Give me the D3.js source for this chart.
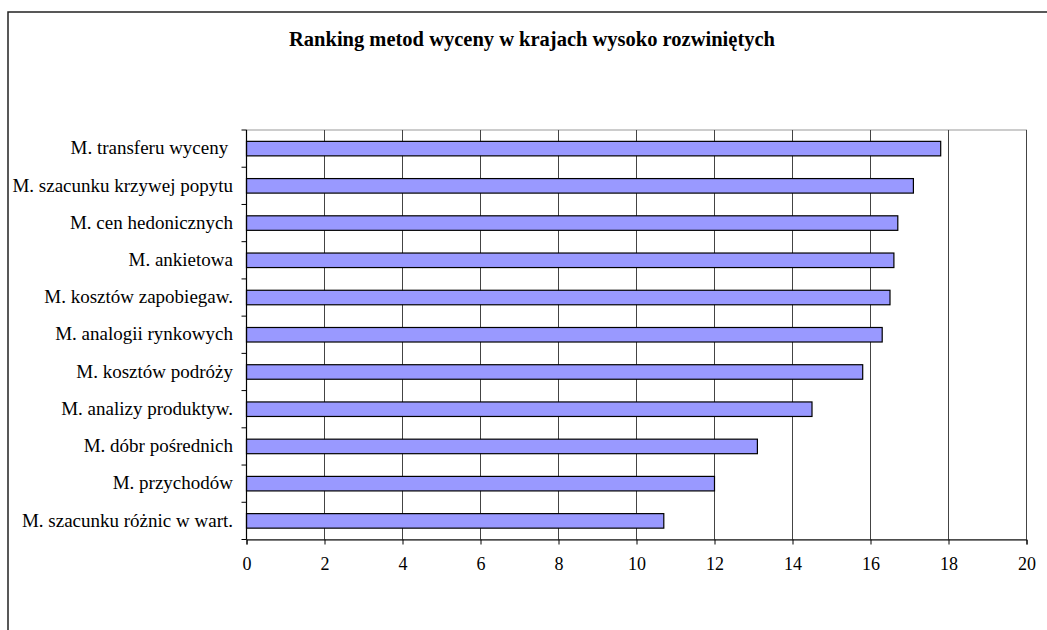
<!DOCTYPE html>
<html>
<head>
<meta charset="utf-8">
<script src="https://cdn.jsdelivr.net/npm/d3@7"></script>
<style>
  html, body { margin: 0; padding: 0; background: #fff; }
  svg { display: block; }
  svg text { font-family: "Liberation Serif", "Times New Roman", serif; fill: #000; }
</style>
</head>
<body>
<svg id="chart" width="1047" height="630"></svg>
<script>
// Ranking of valuation methods (scores), top to bottom
const categories = [
  "M. transferu wyceny ",
  "M. szacunku krzywej popytu",
  "M. cen hedonicznych",
  "M. ankietowa",
  "M. kosztów zapobiegaw.",
  "M. analogii rynkowych",
  "M. kosztów podróży",
  "M. analizy produktyw.",
  "M. dóbr pośrednich",
  "M. przychodów",
  "M. szacunku różnic w wart."
];
const values = [17.8, 17.1, 16.7, 16.6, 16.5, 16.3, 15.8, 14.5, 13.1, 12.0, 10.7];
const xTicks = [0, 2, 4, 6, 8, 10, 12, 14, 16, 18, 20];
const title = "Ranking metod wyceny w krajach wysoko rozwiniętych";

const serif = "'Liberation Serif', 'Times New Roman', serif";
const svg = d3.select("#chart");

// outer chart frame (continues past the right and bottom edges)
svg.append("rect")
  .attr("x", 8).attr("y", 12)
  .attr("width", 1100).attr("height", 700)
  .attr("fill", "#fff").attr("stroke", "#222").attr("stroke-width", 1.5);

svg.append("text")
  .attr("x", 532).attr("y", 46)
  .attr("text-anchor", "middle")
  .attr("font-family", serif)
  .attr("font-weight", "bold")
  .attr("font-size", 20.5)
  .text(title);

const plot = { left: 246.5, right: 1026.5, top: 130, bottom: 539.5 };

const x = d3.scaleLinear().domain([0, 20]).range([plot.left, plot.right]);
const y = d3.scaleBand().domain(categories).range([plot.top, plot.bottom]).paddingInner(0.61).paddingOuter(0.305);
const yBand = d3.scaleBand().domain(categories).range([plot.top, plot.bottom]);

// plot area border
svg.append("rect")
  .attr("x", plot.left).attr("y", plot.top)
  .attr("width", plot.right - plot.left).attr("height", plot.bottom - plot.top)
  .attr("fill", "#fff").attr("stroke", "#999").attr("stroke-width", 1);

// vertical gridlines
svg.append("g")
  .selectAll("line")
  .data(xTicks.slice(1))
  .join("line")
  .attr("x1", d => x(d)).attr("x2", d => x(d))
  .attr("y1", plot.top).attr("y2", plot.bottom)
  .attr("stroke", "#444").attr("stroke-width", 1);

// bars
svg.append("g")
  .selectAll("rect")
  .data(values)
  .join("rect")
  .attr("x", x(0))
  .attr("y", (d, i) => y(categories[i]))
  .attr("width", d => x(d) - x(0))
  .attr("height", y.bandwidth())
  .attr("fill", "#9999ff")
  .attr("stroke", "#000").attr("stroke-width", 1.2);

// x axis
const xAxis = d3.axisBottom(x).tickValues(xTicks).tickSize(5).tickPadding(13).tickFormat(d3.format("d"));
const gx = svg.append("g").attr("transform", `translate(0,${plot.bottom})`).call(xAxis);
gx.attr("font-family", serif).attr("font-size", 18);
gx.select(".domain").attr("stroke", "#000");
gx.selectAll(".tick line").attr("stroke", "#000");

// y axis: ticks sit on the category boundaries, labels at the band centres
const boundaries = categories.map(c => yBand(c)).concat([plot.bottom]);
svg.append("g")
  .selectAll("line")
  .data(boundaries)
  .join("line")
  .attr("x1", plot.left - 5).attr("x2", plot.left)
  .attr("y1", d => d).attr("y2", d => d)
  .attr("stroke", "#000");
svg.append("line")
  .attr("x1", plot.left).attr("x2", plot.left)
  .attr("y1", plot.top).attr("y2", plot.bottom)
  .attr("stroke", "#000").attr("stroke-width", 1.2);

svg.append("g")
  .selectAll("text")
  .data(categories)
  .join("text")
  .attr("x", 233)
  .attr("y", d => yBand(d) + yBand.bandwidth() / 2)
  .attr("dy", "0.3em")
  .attr("text-anchor", "end")
  .attr("font-family", serif)
  .attr("font-size", 19)
  .style("white-space", "pre")
  .text(d => d);
</script>
</body>
</html>
